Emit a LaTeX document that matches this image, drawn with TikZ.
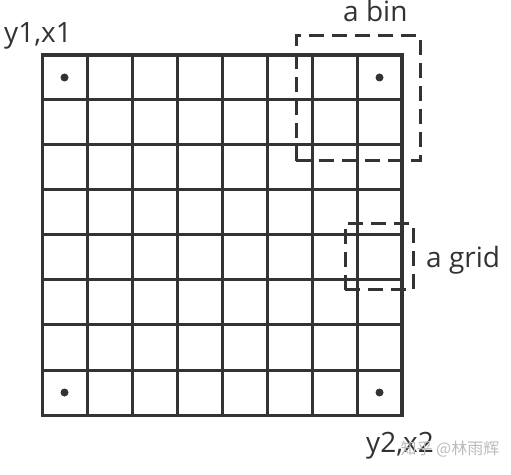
\documentclass[tikz,border=0pt]{standalone}
\usepackage{fontspec}
\setmainfont{Open Sans}
\newfontfamily\cjkfont{Noto Sans CJK SC}
\usepackage{xcolor}
\usepackage{tikz}
\definecolor{ink}{HTML}{333333}
\definecolor{mark}{HTML}{BBBBBB}
\tikzset{
  gridLine/.style={draw=ink, line width=3pt},
  binBox/.style={draw=ink, line width=3pt, dash pattern=on 15pt off 8pt},
  cellDot/.style={fill=ink},
  cornerLabel/.style={text=ink, font=\fontsize{28}{32}\selectfont, inner sep=0pt},
  markText/.style={text=mark, font=\cjkfont\fontsize{16}{19}\selectfont, inner sep=0pt}
}

\begin{document}
\begin{tikzpicture}[x=1pt,y=1pt]
  \useasboundingbox (0,0) rectangle (511,474);
  \def\cell{45}
  \coordinate (SW) at (42,59);
  \coordinate (NE) at (402,419);

  % bins and grids
  \draw[binBox] (296,313) rectangle (420,438);
  \draw[binBox] (345,184) rectangle (413,250);

  \draw[gridLine, shift={(SW)}, step=\cell pt] (0,0) grid (360,360);
  \draw[gridLine] (SW) rectangle (NE);

  \fill[cellDot] (64.5,396.5) circle (4);
  \fill[cellDot] (379.5,396.5) circle (4);
  \fill[cellDot] (64.5,81.5) circle (4);
  \fill[cellDot] (379.5,81.5) circle (4);

  \node[cornerLabel, anchor=base west] (topLeft) at (4,431) {y1,x1};
  \node[cornerLabel, anchor=base west] (binLabel) at (343,452) {a bin};
  \node[cornerLabel, anchor=base west] (gridLabel) at (426,206) {a grid};
  \node[cornerLabel, anchor=base west] (bottomRight) at (366,22) {y2,x2};
  \node[markText] (watermark) at (450,25) {知乎 @林雨辉};
\end{tikzpicture}
\end{document}
